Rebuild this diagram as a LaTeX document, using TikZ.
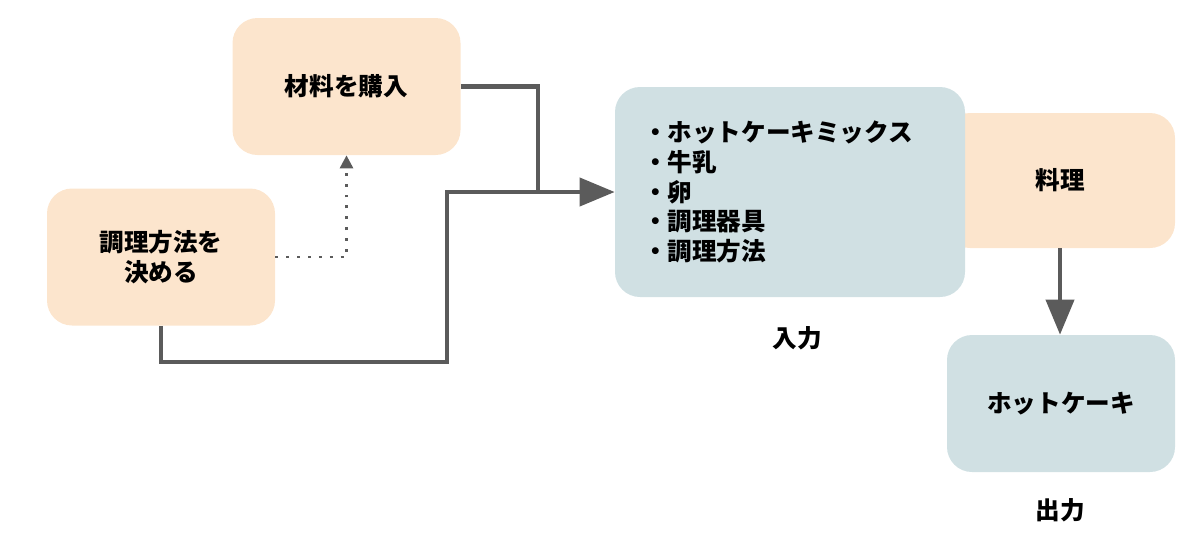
\documentclass[tikz,border=0pt]{standalone}
\usepackage{fontspec}
\setmainfont{Noto Sans CJK JP}
\usetikzlibrary{arrows.meta}
\definecolor{peach}{HTML}{FCE5CD}
\definecolor{bluegray}{HTML}{D0E0E3}
\definecolor{linegray}{HTML}{5B5B5B}
\begin{document}
\begin{tikzpicture}[
  font=\fontsize{14pt}{17pt}\selectfont\bfseries,
  box/.style={rounded corners=0.5cm, minimum width=4.56cm, minimum height=2.74cm, align=center},
  task/.style={box, fill=peach},
  thing/.style={box, fill=bluegray},
  line/.style={linegray, line width=2.3pt},
  flow/.style={line, -{Triangle[length=0.7cm, width=0.56cm]}},
  dots/.style={linegray, line width=1.6pt, dash pattern=on 1.6pt off 4.6pt, -{Triangle[length=0.26cm, width=0.26cm]}}
]
\useasboundingbox (0,0) rectangle (24,-11.08);
\node[task] (buy) at (6.93,-1.73) {材料を購入};
\node[task] (decide) at (3.22,-5.14) {調理方法を\\決める};
\node[task, minimum width=4.6cm, minimum height=2.7cm] (cook) at (21.2,-3.61) {料理};
\node[thing, minimum width=7cm, minimum height=4.2cm, inner xsep=0.56cm, text width=5.88cm, align=left] (input) at (15.8,-3.84)
  {・ホットケーキミックス\\・牛乳\\・卵\\・調理器具\\・調理方法};
\node[thing] (output) at (21.22,-8.07) {ホットケーキ};
\node (inlabel) at (15.94,-6.76) {入力};
\node (outlabel) at (21.2,-10.2) {出力};
\coordinate (join) at (10.76,-3.84);
\draw[line] (buy.east) -| (join);
\draw[flow] (decide.south) |- (8.94,-7.24) |- (input.west);
\draw[dots] (decide.east) -| (buy.south);
\draw[flow] (cook.south) -- (cook.south |- output.north);
\end{tikzpicture}
\end{document}
